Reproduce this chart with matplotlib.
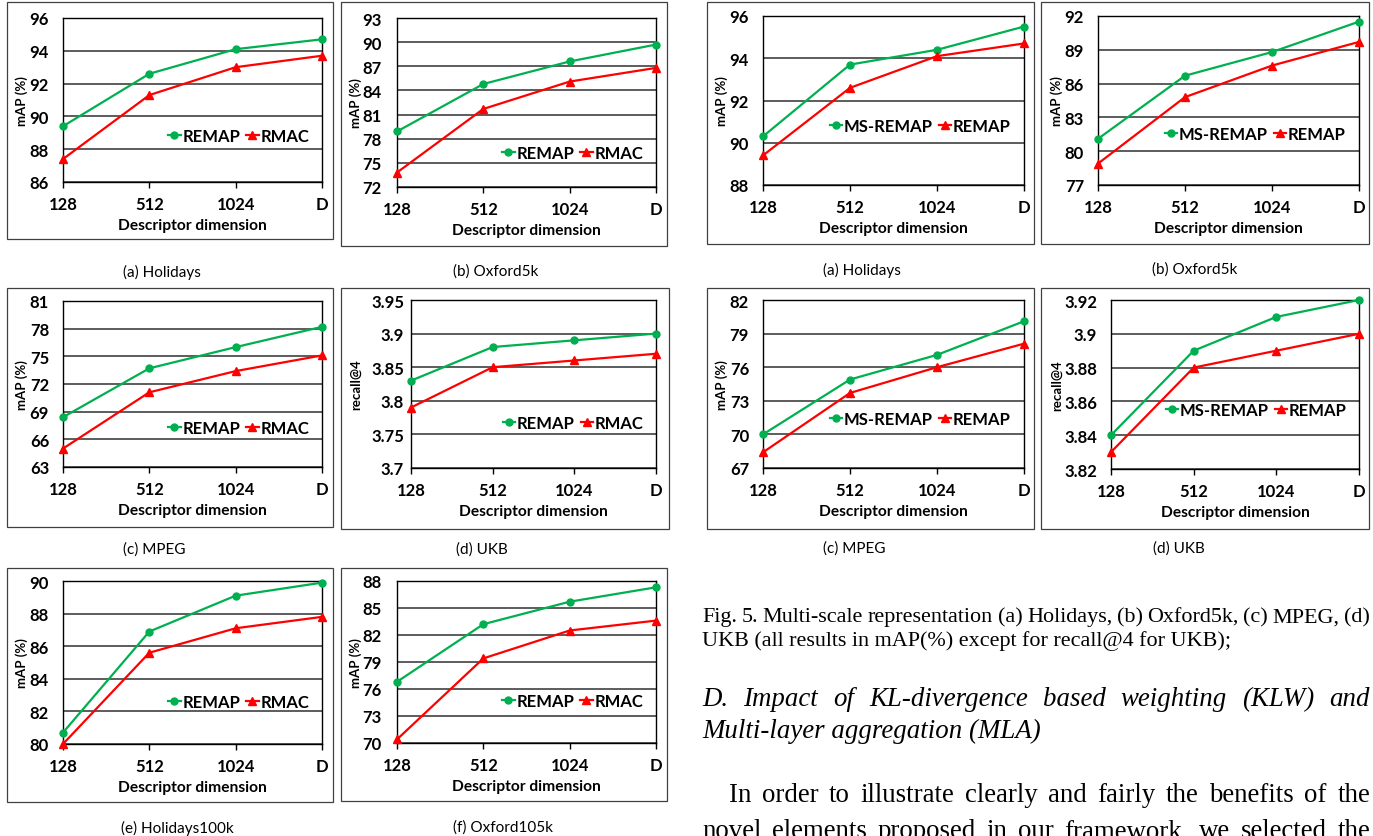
import numpy as np
import matplotlib
matplotlib.use("Agg")
import matplotlib.pyplot as plt
from matplotlib.patches import Rectangle

dims = ["128", "512", "1024", "D"]

# REMAP vs RMAC panels (left block)
holidays_remap = [89.4, 92.6, 94.1, 94.7]
holidays_rmac = [87.4, 91.3, 93.0, 93.7]
oxford5k_remap = [78.9, 84.8, 87.6, 89.7]
oxford5k_rmac = [73.8, 81.7, 85.1, 86.8]
mpeg_remap = [68.4, 73.7, 76.0, 78.2]
mpeg_rmac = [65.0, 71.1, 73.4, 75.1]
ukb_remap = [3.83, 3.88, 3.89, 3.90]
ukb_rmac = [3.79, 3.85, 3.86, 3.87]
hol100k_remap = [80.7, 86.9, 89.1, 89.9]
hol100k_rmac = [80.0, 85.6, 87.1, 87.8]
ox105k_remap = [76.8, 83.2, 85.7, 87.3]
ox105k_rmac = [70.4, 79.4, 82.5, 83.6]

# multi-scale panels (Fig. 5)
ms_holidays = [90.3, 93.7, 94.4, 95.5]
ss_holidays = [89.4, 92.6, 94.1, 94.7]
ms_oxford5k = [81.1, 86.7, 88.8, 91.5]
ss_oxford5k = [78.9, 84.8, 87.6, 89.7]
ms_mpeg = [70.0, 74.9, 77.1, 80.1]
ss_mpeg = [68.4, 73.7, 76.0, 78.1]
ms_ukb = [3.84, 3.89, 3.91, 3.92]
ss_ukb = [3.83, 3.88, 3.89, 3.90]

W, H = 1373, 837
fig = plt.figure(figsize=(W / 100, H / 100), dpi=100)
fig.patch.set_facecolor("white")

GREEN = "#00B050"
RED = "#FF0000"
FONT = "Lato"
SERIF = "Liberation Serif"


def panel(box, plot, ylo, yhi, step, ylab, ylab_x, ypad, green, red, names,
          leg_y, caption, cap_x, cap_y):
    bx0, by0, bx1, by1 = box
    fig.add_artist(Rectangle((bx0 / W, 1 - by1 / H), (bx1 - bx0) / W, (by1 - by0) / H,
                             transform=fig.transFigure, fill=False, lw=0.9, ec="#404040"))
    x0, y0, x1, y1 = plot
    ax = fig.add_axes([x0 / W, 1 - y1 / H, (x1 - x0) / W, (y1 - y0) / H])
    xs = np.arange(len(dims))
    ax.plot(xs, green, color=GREEN, marker="o", ms=5, lw=1.6, label=names[0],
            clip_on=False, zorder=3)
    ax.plot(xs, red, color=RED, marker="^", ms=5.5, lw=1.6, label=names[1],
            clip_on=False, zorder=3)
    ax.set_xlim(0, 3)
    ax.set_ylim(ylo, yhi)
    ticks = np.arange(ylo, yhi + step / 2, step)
    ax.set_yticks(ticks)
    ax.set_yticklabels(["{:g}".format(round(t, 3)) for t in ticks])
    ax.set_xticks(xs)
    ax.set_xticklabels(dims)
    ax.grid(axis="y", color="#303030", lw=1.1)
    ax.set_axisbelow(True)
    for s in ax.spines.values():
        s.set_color("black")
        s.set_linewidth(1.0)
    ax.tick_params(axis="y", length=0, pad=ypad)
    ax.tick_params(axis="x", length=4, width=1, direction="out", pad=6)
    for lab in ax.get_xticklabels() + ax.get_yticklabels():
        lab.set_fontfamily(FONT)
        lab.set_fontweight("bold")
        lab.set_fontsize(12)
    ax.set_xlabel("Descriptor dimension", fontsize=11.2, fontweight="bold", family=FONT)
    ax.xaxis.label.set_va("center")
    ax.xaxis.set_label_coords(0.5, -(43 / (y1 - y0)))
    ax.set_ylabel(ylab, fontsize=9.5, fontweight="bold", family=FONT)
    ax.yaxis.label.set_va("center")
    ax.yaxis.set_label_coords(-(x0 - ylab_x) / (x1 - x0), 0.5)
    ax.legend(loc="center right", bbox_to_anchor=(0.95, leg_y), ncol=2, frameon=False,
              handlelength=0.75, handletextpad=0.1, columnspacing=0.35, borderpad=0,
              borderaxespad=0, prop={"family": FONT, "weight": "bold", "size": 12})
    fig.text(cap_x / W, 1 - cap_y / H, caption, ha="left", va="center",
             fontsize=11, family=FONT)


rr = ["REMAP", "RMAC"]
mr = ["MS-REMAP", "REMAP"]

panel((7, 3, 333, 240), (63, 19, 322, 183), 86, 96, 2, "mAP (%)", 22, 10,
      holidays_remap, holidays_rmac, rr, 0.28, "(a) Holidays", 123, 272)
panel((341, 3, 667, 247), (397, 19, 656, 188), 72, 93, 3, "mAP (%)", 356, 11,
      oxford5k_remap, oxford5k_rmac, rr, 0.20, "(b) Oxford5k", 453, 272)
panel((7, 289, 333, 528), (63, 302, 322, 468), 63, 81, 3, "mAP (%)", 22, 10,
      mpeg_remap, mpeg_rmac, rr, 0.235, "(c) MPEG", 123, 550)
panel((341, 289, 669, 530), (411, 301, 656, 469), 3.7, 3.95, 0.05, "recall@4", 356, 5,
      ukb_remap, ukb_rmac, rr, 0.27, "(d) UKB", 456, 550)
panel((7, 569, 333, 803), (63, 582, 322, 745), 80, 90, 2, "mAP (%)", 22, 10,
      hol100k_remap, hol100k_rmac, rr, 0.26, "(e) Holidays100k", 121, 828)
panel((341, 569, 667, 802), (397, 582, 656, 744), 70, 88, 3, "mAP (%)", 356, 11,
      ox105k_remap, ox105k_rmac, rr, 0.26, "(f) Oxford105k", 453, 828)

panel((707, 3, 1034, 245), (763, 17, 1024, 186), 88, 96, 2, "mAP (%)", 722, 10,
      ms_holidays, ss_holidays, mr, 0.35, "(a) Holidays", 823, 270)
panel((1041, 3, 1369, 245), (1098, 17, 1359, 186), 77, 92, 3, "mAP (%)", 1057, 10,
      ms_oxford5k, ss_oxford5k, mr, 0.30, "(b) Oxford5k", 1152, 270)
panel((707, 289, 1034, 530), (763, 301, 1024, 469), 67, 82, 3, "mAP (%)", 722, 10,
      ms_mpeg, ss_mpeg, mr, 0.29, "(c) MPEG", 823, 549)
panel((1041, 289, 1369, 530), (1111, 301, 1359, 470), 3.82, 3.92, 0.02, "recall@4", 1057, 10,
      ms_ukb, ss_ukb, mr, 0.35, "(d) UKB", 1153, 549)

# body text on the right column
fig.canvas.draw()
rend = fig.canvas.get_renderer()


def text_w(s, size, style):
    t = fig.text(0, 0, s, fontsize=size, family=SERIF, style=style)
    w = t.get_window_extent(rend).width
    t.remove()
    return w


def put_line(s, x0, y, size, style="normal", x1=None):
    if x1 is None:
        fig.text(x0 / W, 1 - y / H, s, fontsize=size, family=SERIF, style=style,
                 ha="left", va="center")
        return
    words = s.split()
    ws = [text_w(w, size, style) for w in words]
    gap = (x1 - x0 - sum(ws)) / (len(words) - 1)
    x = x0
    for w, wd in zip(words, ws):
        fig.text(x / W, 1 - y / H, w, fontsize=size, family=SERIF, style=style,
                 ha="left", va="center")
        x += wd + gap


cap1 = "Fig. 5.  Multi-scale representation (a) Holidays, (b) Oxford5k, (c) MPEG, (d)"
cap2 = "UKB (all results in mAP(%) except for recall@4 for UKB);"
head1 = "D. Impact of KL-divergence based weighting (KLW) and"
head2 = "Multi-layer aggregation (MLA)"
body1 = "In order to illustrate clearly and fairly the benefits of the"
body2 = "novel elements proposed in our framework, we selected the"

cap_size = 10 * (1231 - 702) / text_w(cap2, 10, "normal")
body_size = 10 * (1040 - 702) / text_w(head2, 10, "italic")

put_line(cap1, 702, 618, cap_size, x1=1370)
put_line(cap2, 702, 641, cap_size)
put_line(head1, 702, 700, body_size, "italic", x1=1370)
put_line(head2, 702, 731, body_size, "italic")
put_line(body1, 729, 796, body_size, x1=1370)
put_line(body2, 702, 832, body_size, x1=1370)

fig.savefig("out.png", dpi=100)
